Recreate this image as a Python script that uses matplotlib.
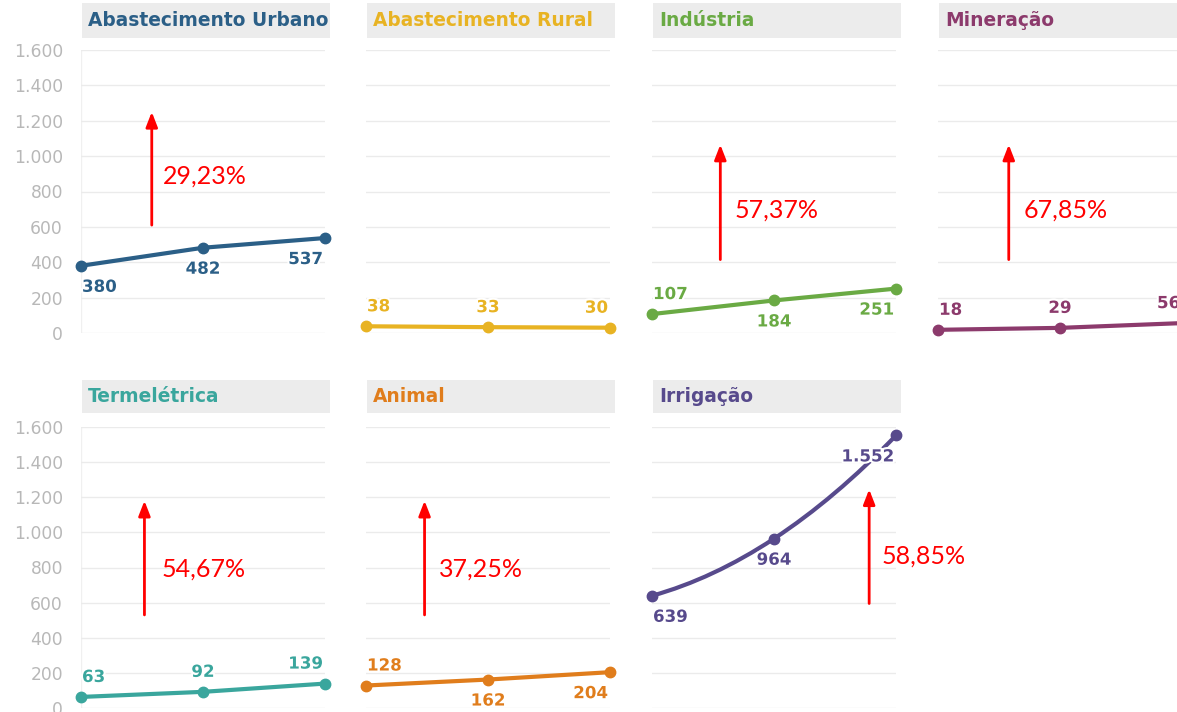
import matplotlib
matplotlib.use("Agg")
import matplotlib.pyplot as plt
from matplotlib.patches import Rectangle, PathPatch
from matplotlib.path import Path
import matplotlib.patheffects as pe

# ---------------- data ----------------
periods = [0, 1, 2]
categories = ["Abastecimento Urbano", "Abastecimento Rural", "Indústria", "Mineração",
              "Termelétrica", "Animal", "Irrigação"]
urbano = [380, 482, 537]
rural = [38, 33, 30]
industria = [107, 184, 251]
mineracao = [18, 29, 56]
termeletrica = [63, 92, 139]
animal = [128, 162, 204]
irrigacao = [639, 964, 1552]
series = [urbano, rural, industria, mineracao, termeletrica, animal, irrigacao]
growth_labels = ["29,23%", None, "57,37%", "67,85%", "54,67%", "37,25%", "58,85%"]
yticks = [0, 200, 400, 600, 800, 1000, 1200, 1400, 1600]
ytick_labels = ["0", "200", "400", "600", "800", "1.000", "1.200", "1.400", "1.600"]

# ---------------- style ----------------
colors = ["#2b5f87", "#e8b323", "#6aaa44", "#8c3a6c", "#3aa69d", "#e07d1c", "#574a8c"]
# label placement: +1 above, -1 below
label_side = [
    [-1, -1, -1],
    [1, 1, 1],
    [1, -1, -1],
    [1, 1, 1],
    [1, 1, 1],
    [1, -1, -1],
    [-1, -1, -1],
]
# arrow (x, y_tail, y_head) and text position (x, y) in data coords
arrows = [
    (0.58, 610, 1250, 0.67, 890),
    None,
    (0.56, 415, 1065, 0.68, 695),
    (0.58, 415, 1065, 0.70, 695),
    (0.52, 530, 1180, 0.66, 790),
    (0.48, 530, 1180, 0.60, 790),
    (1.78, 595, 1245, 1.88, 865),
]

W, H = 1177, 712
fig = plt.figure(figsize=(W / 100, H / 100), dpi=100)
fig.patch.set_facecolor("white")

col_left = [81, 366, 652, 938]
ax_w = 244
rows = [(50, 333, 3, 38), (427, 708, 380, 413)]  # (y_top, y_bottom, title_top, title_bottom) px

title_font = "DejaVu Sans"
num_font = "DejaVu Sans"

for i, (name, vals) in enumerate(zip(categories, series)):
    r, c = divmod(i, 4)
    ytop, ybot, ttop, tbot = rows[r]
    left = col_left[c]
    ax = fig.add_axes([left / W, 1 - ybot / H, ax_w / W, (ybot - ytop) / H])
    ax.set_xlim(0, 2)
    ax.set_ylim(0, 1600)
    for s in ax.spines.values():
        s.set_visible(False)
    ax.set_yticks(yticks)
    ax.set_xticks([])
    ax.grid(axis="y", color="#ebebeb", lw=1)
    ax.set_axisbelow(True)
    ax.tick_params(axis="y", length=0, pad=13, labelsize=12.3, labelcolor="#b8b8b8")
    if c == 0:
        ax.set_yticklabels(ytick_labels, fontfamily="DejaVu Sans")
        ax.axvline(0, color="#f0f0f0", lw=1, zorder=0)
    else:
        ax.set_yticklabels([])

    col = colors[i]
    if name == "Irrigação":
        p0 = (periods[0], vals[0])
        p2 = (periods[2], vals[2])
        ctrl = (2 * periods[1] - (p0[0] + p2[0]) / 2, 2 * vals[1] - (p0[1] + p2[1]) / 2)
        path = Path([p0, ctrl, p2], [Path.MOVETO, Path.CURVE3, Path.CURVE3])
        ax.add_patch(PathPatch(path, facecolor="none", edgecolor=col, lw=3, clip_on=False,
                               capstyle="round", zorder=3))
        ax.plot(periods, vals, ls="none", marker="o", ms=7.5, color=col, clip_on=False, zorder=4)
    else:
        ax.plot(periods, vals, color=col, lw=3, marker="o", ms=7.5, clip_on=False,
                solid_capstyle="round", zorder=3)

    for j, (x, v) in enumerate(zip(periods, vals)):
        side = label_side[i][j]
        ha = ["left", "center", "right"][j]
        dx = [1, 0, -2][j]
        dy = 20 if side > 0 else -21
        txt = f"{v:,}".replace(",", ".")
        ax.annotate(txt, (x, v), xytext=(dx, dy), textcoords="offset pixels",
                    ha=ha, va="center", fontsize=12, fontweight="bold", color=col,
                    fontfamily=num_font, annotation_clip=False, zorder=5,
                    path_effects=[pe.withStroke(linewidth=3, foreground="white")])

    # title box
    fig.patches.append(Rectangle(((left + 1) / W, 1 - tbot / H), 248 / W, (tbot - ttop) / H,
                                 transform=fig.transFigure, facecolor="#ececec",
                                 edgecolor="none", zorder=0))
    fig.text((left + 7) / W, 1 - (ttop + tbot) / 2 / H, name, ha="left", va="center",
             fontsize=13.4, fontweight="bold", color=col, fontfamily=title_font)

    a = arrows[i]
    if a is not None:
        ax_x, y0, y1, tx, ty = a
        ax.annotate("", xy=(ax_x, y1), xytext=(ax_x, y0),
                    arrowprops=dict(arrowstyle="-|>,head_width=0.35,head_length=0.9",
                                    color="#ff0000", lw=2, shrinkA=0, shrinkB=0),
                    annotation_clip=False, zorder=6)
        ax.text(tx, ty, growth_labels[i], ha="left", va="center", fontsize=18,
                color="#ff0000", fontfamily="Lato", zorder=6)

fig.savefig("out.png", dpi=100, facecolor="white")
